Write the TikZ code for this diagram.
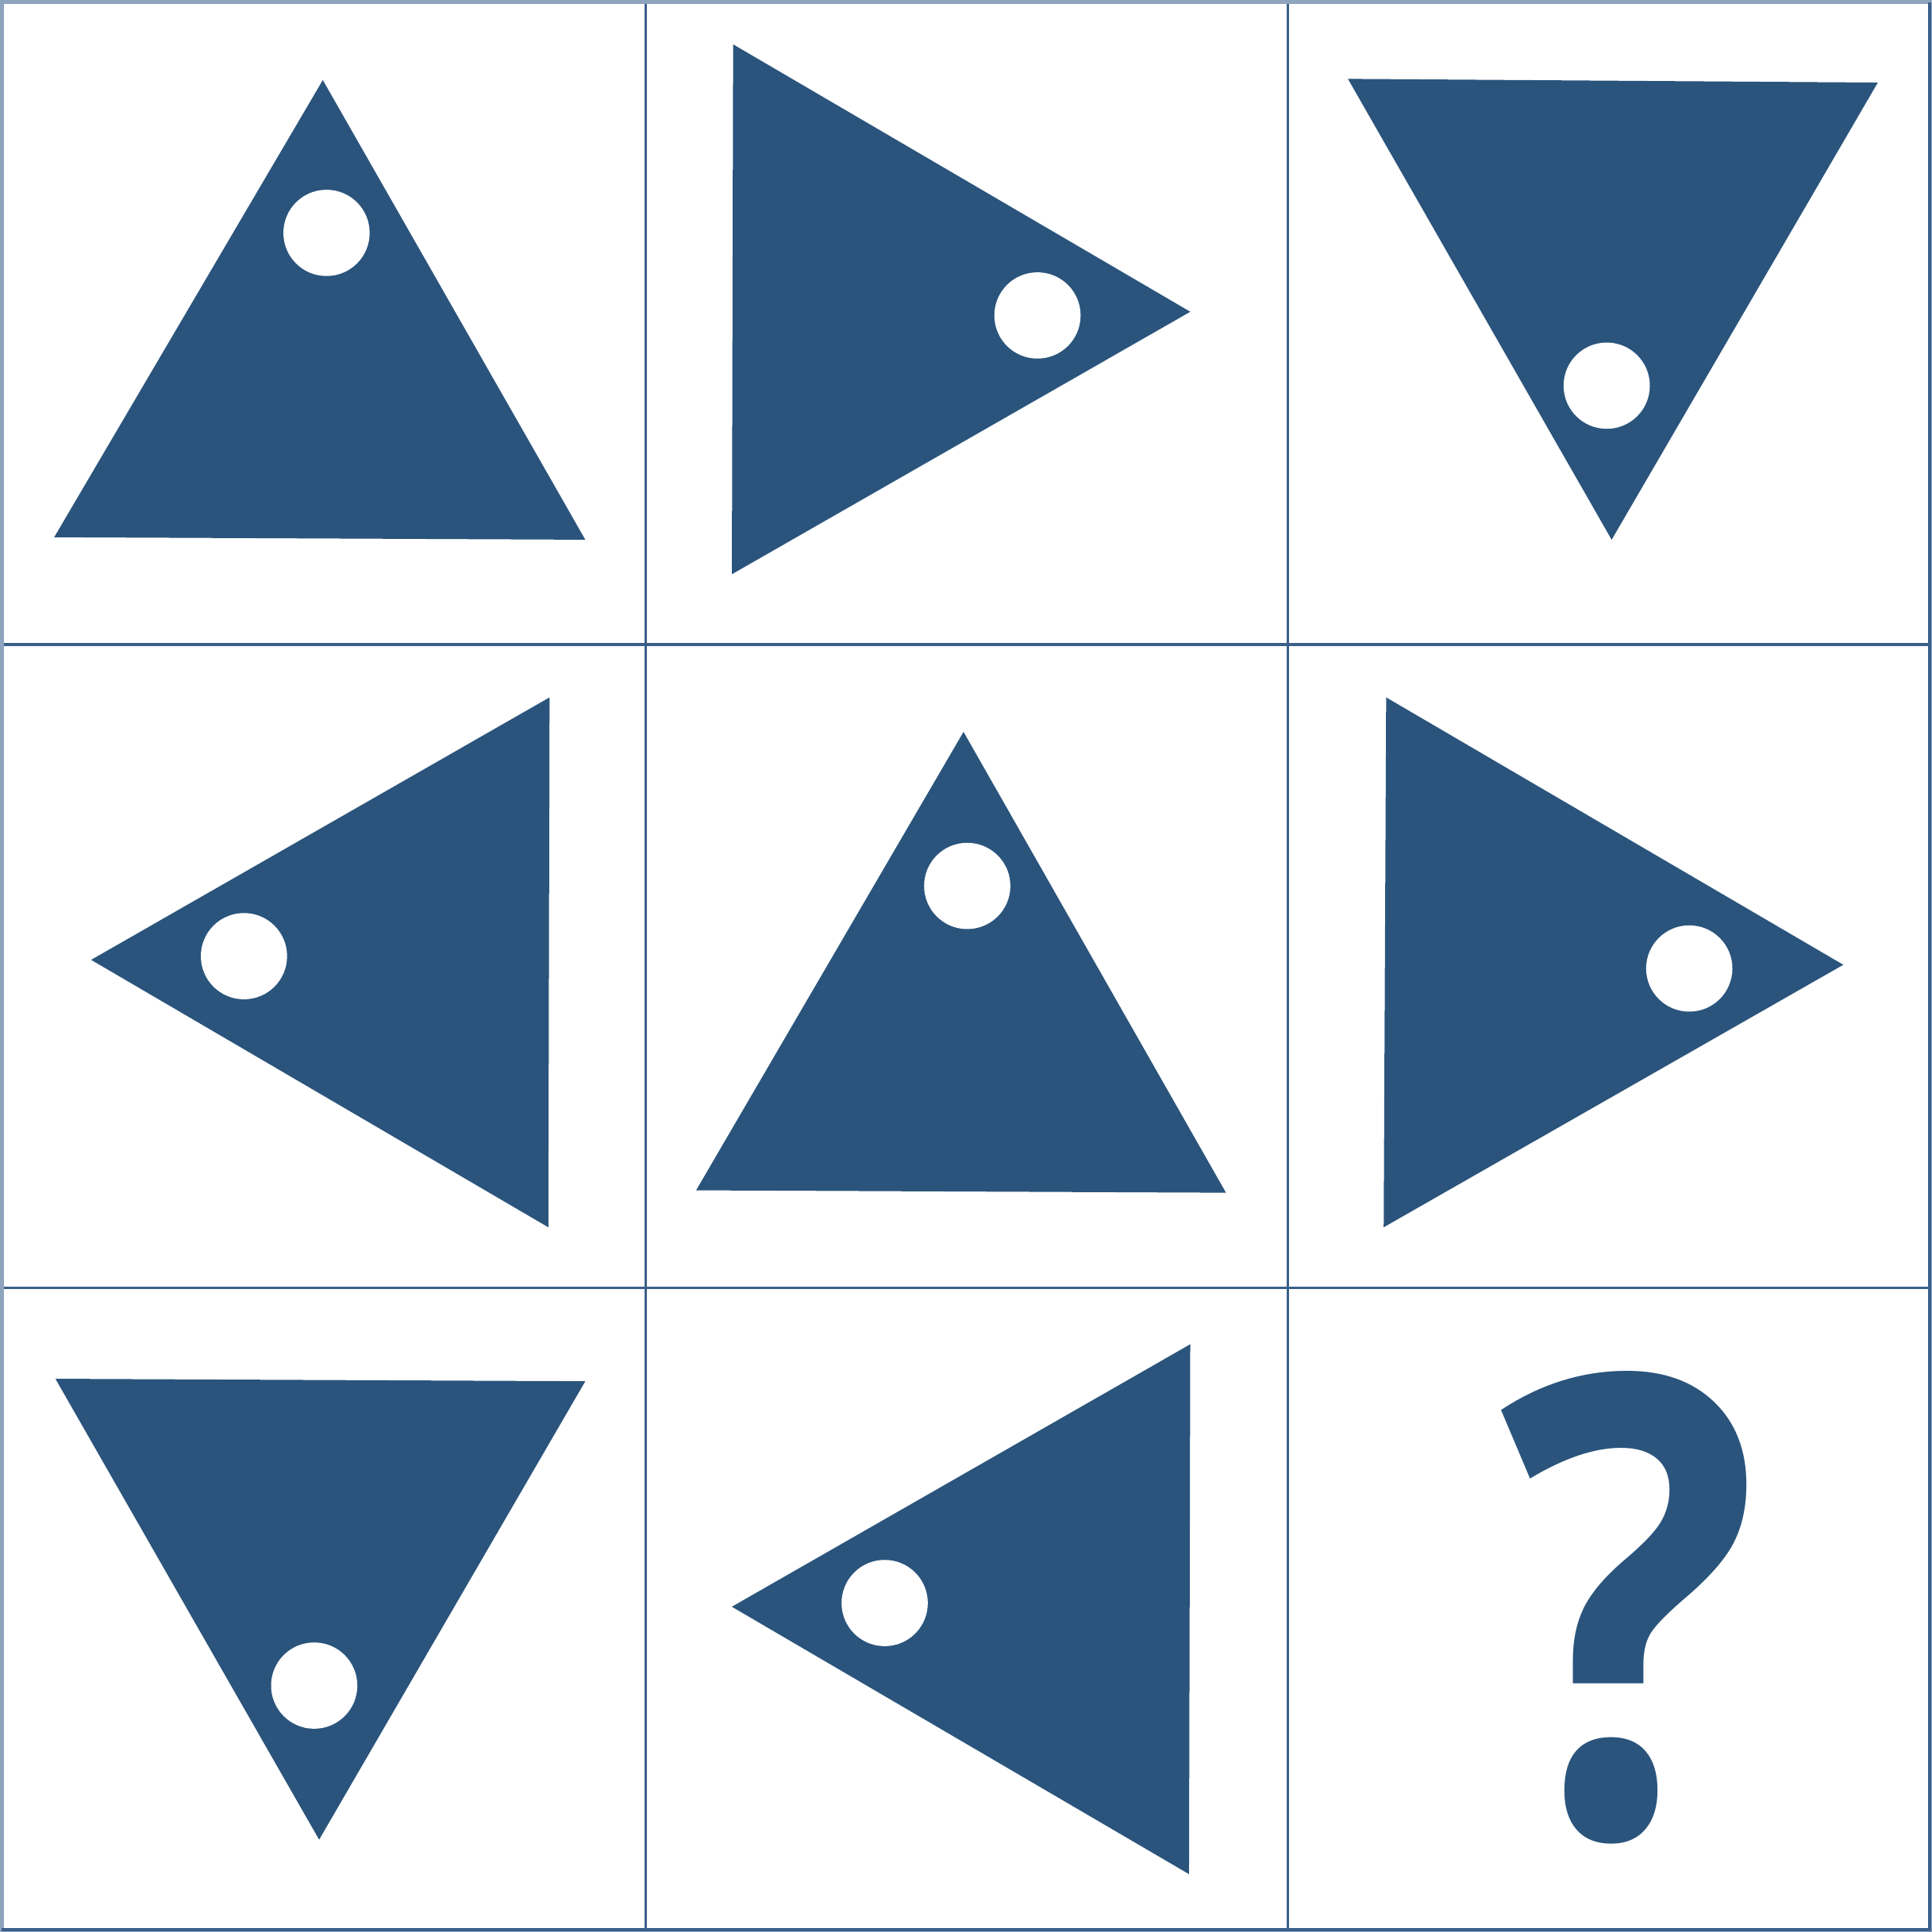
\documentclass[tikz,border=0pt]{standalone}
\usepackage{fontspec}
\setmainfont{Open Sans}
\definecolor{shape}{HTML}{2A547C}
\definecolor{grid}{HTML}{3A608A}
\definecolor{rim}{HTML}{8EA4BE}
\tikzset{
  tri/.style={fill=shape, draw=none},
  hole/.style={fill=white, draw=none},
  gridline/.style={draw=grid, line width=0.6pt},
}
\begin{document}
\begin{tikzpicture}[x=0.01cm, y=-0.01cm]
\useasboundingbox (0,0) rectangle (1568,1568);
\fill[white] (0,0) rectangle (1568,1568);
% grid
\draw[gridline] (524,0) -- (524,1568);
\draw[gridline] (1045,0) -- (1045,1568);
\draw[gridline] (0,523) -- (1568,523);
\draw[gridline] (0,1045) -- (1568,1045);
\draw[draw=rim, line width=0.9pt] (1.6,1.6) rectangle (1566.4,1566.4);
\draw[gridline] (1566,1.6) -- (1566,1566) -- (1.6,1566);
% row 1
\fill[tri] (262,65) -- (475,438) -- (44,436) -- cycle;
\fill[hole] (265,189) circle (35);
\fill[tri] (595,36) -- (966,253) -- (594,466) -- cycle;
\fill[hole] (842,256) circle (35);
\fill[tri] (1094,64) -- (1524,67) -- (1308,438) -- cycle;
\fill[hole] (1304,313) circle (35);
% row 2
\fill[tri] (446,566) -- (445,996) -- (74,779) -- cycle;
\fill[hole] (198,776) circle (35);
\fill[tri] (782,594) -- (995,968) -- (565,966) -- cycle;
\fill[hole] (785,719) circle (35);
\fill[tri] (1125,566) -- (1496,783) -- (1123,996) -- cycle;
\fill[hole] (1371,786) circle (35);
% row 3
\fill[tri] (45,1119) -- (475,1121) -- (259,1493) -- cycle;
\fill[hole] (255,1368) circle (35);
\fill[tri] (966,1091) -- (965,1521) -- (594,1304) -- cycle;
\fill[hole] (718,1301) circle (35);
\node[text=shape, inner sep=0, xscale=0.85, font=\fontsize{148}{148}\selectfont\bfseries] (q) at (1323,1305) {?};
\end{tikzpicture}
\end{document}
